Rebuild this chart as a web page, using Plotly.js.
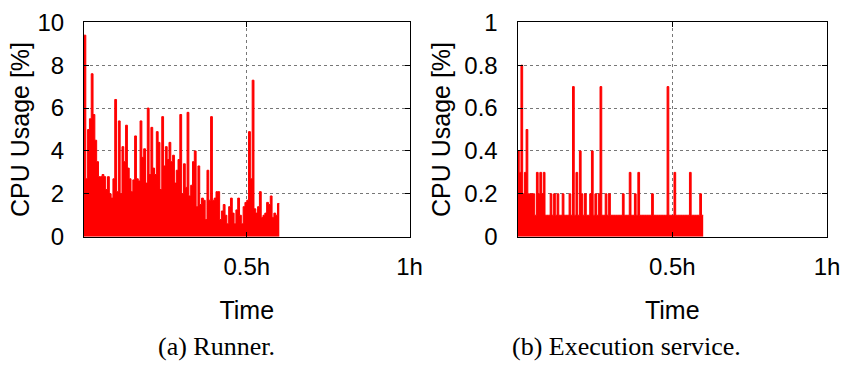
<!DOCTYPE html>
<html>
<head>
<meta charset="utf-8">
<script src="https://cdn.plot.ly/plotly-3.0.1.min.js"></script>
<style>html,body{margin:0;padding:0;background:#fff;}#chart{width:843px;height:383px;}</style>
</head>
<body>
<div id="chart"></div>
<script>
// sampling interval in seconds
const STEP_S = 20;
// (a) Runner CPU usage [%], one value per 20 s sample
const runnerCpu = [
  9.4, 2.7, 5.0, 5.5, 7.6, 5.7, 4.5, 3.5, 2.8, 2.8,
  2.9, 2.8, 2.2, 2.8, 2.0, 1.8, 2.7, 6.4, 2.1, 5.4,
  2.0, 4.2, 3.5, 5.2, 3.2, 2.7, 2.1, 2.65, 4.7, 2.7,
  2.6, 5.4, 3.7, 4.1, 2.5, 6.0, 2.9, 5.1, 3.2, 2.9,
  4.9, 4.4, 2.2, 5.6, 3.3, 4.2, 3.6, 4.4, 3.5, 3.8,
  2.5, 3.1, 3.6, 5.7, 2.0, 3.4, 2.3, 5.8, 1.9, 2.4,
  3.5, 4.0, 1.4, 3.3, 1.5, 1.8, 1.7, 0.8, 3.1, 1.7,
  5.6, 1.7, 1.8, 2.1, 2.1, 0.8, 1.2, 1.5, 1.0, 0.6,
  1.4, 1.8, 1.1, 0.6, 1.25, 1.8, 1.0, 0.6, 1.4, 1.6,
  1.7, 4.9, 2.7, 7.3, 1.3, 1.1, 1.4, 2.1, 0.9, 1.0,
  1.1, 1.6, 1.5, 1.9, 0.9, 1.1, 1.0, 1.55
];
// (b) Execution service CPU usage [%]
const execCpu = [
  0.4, 0.3, 0.8, 0.2, 0.3, 0.5, 0.2, 0.2, 0.2, 0.2,
  0.1, 0.3, 0.2, 0.3, 0.2, 0.3, 0.1, 0.1, 0.1, 0.2,
  0.1, 0.2, 0.1, 0.2, 0.1, 0.1, 0.2, 0.1, 0.1, 0.1,
  0.2, 0.1, 0.7, 0.1, 0.3, 0.1, 0.4, 0.2, 0.1, 0.2,
  0.1, 0.1, 0.2, 0.4, 0.1, 0.2, 0.1, 0.2, 0.7, 0.1,
  0.1, 0.2, 0.1, 0.2, 0.1, 0.1, 0.1, 0.1, 0.1, 0.1,
  0.1, 0.2, 0.1, 0.1, 0.1, 0.3, 0.1, 0.1, 0.2, 0.1,
  0.3, 0.1, 0.1, 0.1, 0.1, 0.1, 0.1, 0.1, 0.2, 0.1,
  0.1, 0.1, 0.1, 0.1, 0.1, 0.1, 0.1, 0.7, 0.1, 0.1,
  0.1, 0.3, 0.1, 0.1, 0.1, 0.1, 0.1, 0.1, 0.1, 0.1,
  0.3, 0.1, 0.1, 0.1, 0.1, 0.1, 0.2, 0.1
];
const xTickVals = [1800, 3600];
const xTickText = ['0.5h', '1h'];
const captions = ['(a) Runner.', '(b) Execution service.'];

function stepSeries(vals) {
  const x = vals.map((v, i) => i * STEP_S);
  const y = vals.slice();
  x.push(vals.length * STEP_S); y.push(vals[vals.length - 1]);
  return {x, y};
}
const s1 = stepSeries(runnerCpu), s2 = stepSeries(execCpu);
const traceStyle = {type: 'scatter', mode: 'lines', line: {color: '#ff0000', width: 1, shape: 'hv'},
  fill: 'tozeroy', fillcolor: '#ff0000', showlegend: false, hoverinfo: 'skip'};

const W = 843, H = 383;
const font = {family: 'Liberation Sans, Arial, sans-serif', size: 24, color: '#000'};
const yTop = 1 - 22.3 / H, yBot = 1 - 236.7 / H;

function xAxis(domain, anchor) {
  return {domain, anchor, range: [0, 3600], tickvals: xTickVals, ticktext: xTickText,
    ticks: 'inside', ticklen: 5, tickcolor: '#000', showline: true, mirror: 'ticks', linecolor: '#000', linewidth: 1,
    showgrid: true, gridcolor: '#777777', griddash: 'dot', gridwidth: 1, zeroline: false,
    tickfont: font, ticklabelstandoff: 8, fixedrange: true,
    title: {text: 'Time', font: {...font, size: 25}, standoff: 22}};
}
function yAxis(domain, anchor, range, dtick, titleStandoff) {
  return {domain, anchor, range, dtick, ticks: 'inside', ticklen: 5, tickcolor: '#000',
    showline: true, mirror: 'ticks', linecolor: '#000', linewidth: 1,
    showgrid: true, gridcolor: '#777777', griddash: 'dot', gridwidth: 1, zeroline: false,
    tickfont: font, ticklabelstandoff: 14, fixedrange: true,
    title: {text: 'CPU Usage [%]', font: {...font, size: 25}, standoff: titleStandoff}};
}

const captionFont = {family: 'Liberation Serif, Times New Roman, serif', size: 26, color: '#000'};
const layout = {
  width: W, height: H, margin: {l: 0, r: 0, t: 0, b: 0},
  paper_bgcolor: '#fff', plot_bgcolor: '#fff', font,
  xaxis: xAxis([84 / W, 409.5 / W], 'y'),
  yaxis: yAxis([yBot, yTop], 'x', [0, 10], 2, 0),
  xaxis2: xAxis([517.5 / W, 827 / W], 'y2'),
  yaxis2: yAxis([yBot, yTop], 'x2', [0, 1], 0.2, 6),
  annotations: [
    {text: captions[0], xref: 'paper', yref: 'paper', x: 216 / W, y: 1 - 346 / H, showarrow: false,
     xanchor: 'center', yanchor: 'middle', font: captionFont},
    {text: captions[1], xref: 'paper', yref: 'paper', x: 626 / W, y: 1 - 346 / H, showarrow: false,
     xanchor: 'center', yanchor: 'middle', font: captionFont}
  ]
};

Plotly.newPlot('chart', [
  {...traceStyle, x: s1.x, y: s1.y, xaxis: 'x', yaxis: 'y'},
  {...traceStyle, x: s2.x, y: s2.y, xaxis: 'x2', yaxis: 'y2'}
], layout, {staticPlot: true, displayModeBar: false});
</script>
</body>
</html>
